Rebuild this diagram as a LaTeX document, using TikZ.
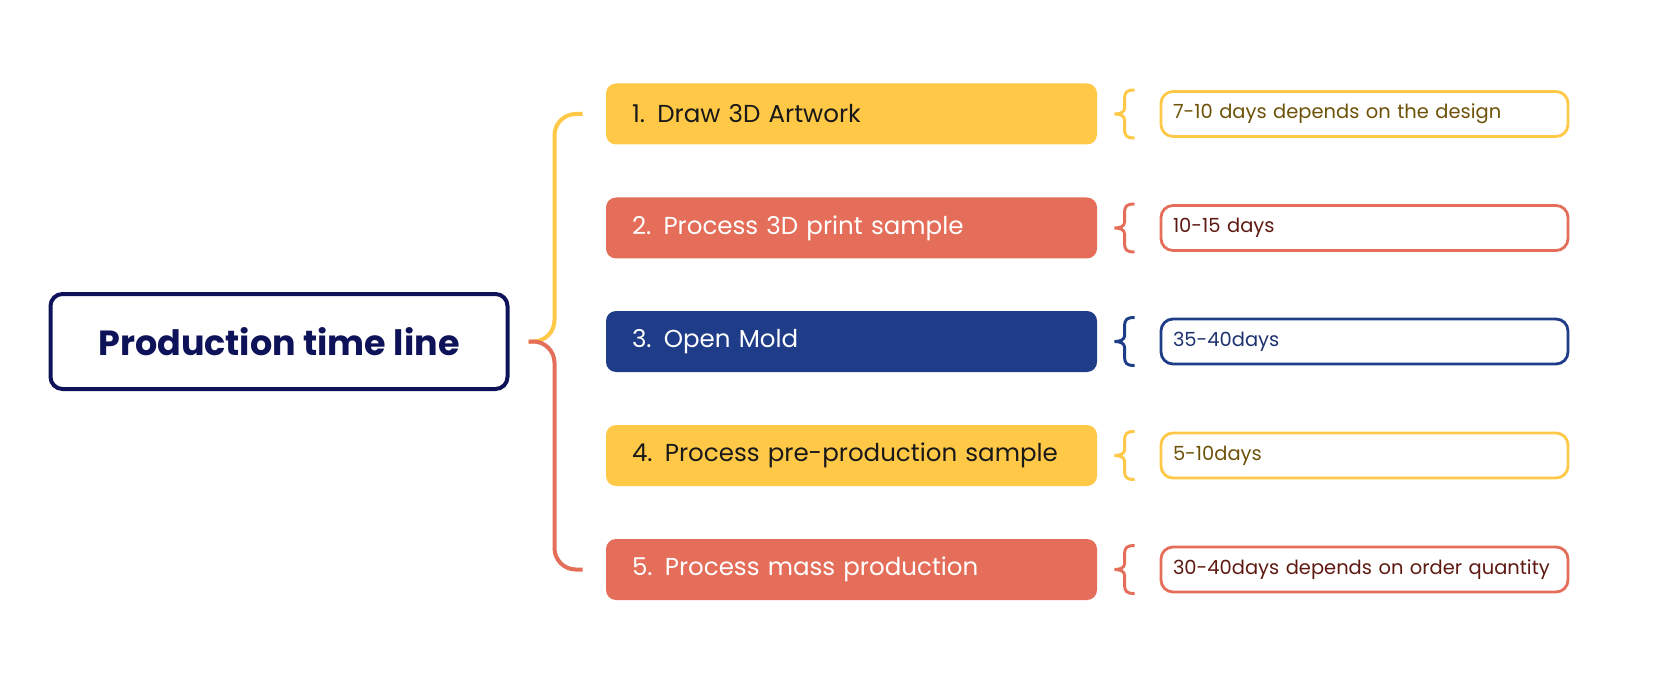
\documentclass[tikz,border=0pt]{standalone}
\usepackage{fontspec}
\setmainfont{Poppins}
\usetikzlibrary{calc}
\definecolor{cyel}{HTML}{FFC847}
\definecolor{cora}{HTML}{E46E59}
\definecolor{cblu}{HTML}{1F3C88}
\definecolor{cnav}{HTML}{0E1259}
\definecolor{tyel}{HTML}{6E5209}
\definecolor{tora}{HTML}{5E1A12}
\definecolor{tblu}{HTML}{1F3270}
\tikzset{
  rootbox/.style={draw=cnav, line width=3pt, rounded corners=9pt, fill=white,
    minimum width=342.75pt, minimum height=71.25pt, inner sep=0pt,
    font=\fontsize{26.2pt}{30pt}\selectfont\bfseries, text=cnav},
  stepbox/.style={fill=#1, rounded corners=7.5pt, minimum width=368.25pt,
    minimum height=45.75pt, text width=329.25pt, align=left, inner xsep=19.5pt, inner ysep=0pt,
    font=\fontsize{18.4pt}{21pt}\selectfont},
  labbox/.style={draw=#1, line width=2.1pt, rounded corners=9pt, fill=white,
    minimum width=305.25pt, minimum height=33.75pt, text width=287.25pt, align=left,
    inner xsep=9pt, inner ysep=0pt, font=\fontsize{14.6pt}{17pt}\selectfont},
  bigbrace/.style={draw=#1, line width=3pt, rounded corners=16pt},
  smallbrace/.style={draw=#1, line width=2.2pt},
}
\begin{document}
\begin{tikzpicture}[x=0.75pt,y=-0.75pt]
\useasboundingbox (0,0) rectangle (1677,684);
\node[rootbox] (root) at (279,341.5) {Production time line};
\node[stepbox=cyel, text=black!90] (s1) at (851.5,114) {1. Draw 3D Artwork};
\node[stepbox=cora, text=white] (s2) at (851.5,228) {2. Process 3D print sample};
\node[stepbox=cblu, text=white] (s3) at (851.5,341.5) {3. Open Mold};
\node[stepbox=cyel, text=black!90] (s4) at (851.5,455.5) {4. Process pre-production sample};
\node[stepbox=cora, text=white] (s5) at (851.5,569.5) {5. Process mass production};
\node[labbox=cyel, text=tyel] (l1) at (1364.5,114) {7-10 days depends on the design};
\node[labbox=cora, text=tora] (l2) at (1364.5,228) {10-15 days};
\node[labbox=cblu, text=tblu] (l3) at (1364.5,341.5) {35-40days};
\node[labbox=cyel, text=tyel] (l4) at (1364.5,455.5) {5-10days};
\node[labbox=cora, text=tora] (l5) at (1364.5,569.5) {30-40days depends on order quantity};
\coordinate (j) at ($(root.east)+(19,0)$);
\coordinate (t1) at ($(s1.west)+(-23,0)$);
\coordinate (t5) at ($(s5.west)+(-23,0)$);
\draw[bigbrace=cyel] (j) -- ++(26,0) |- (t1);
\draw[bigbrace=cora] (j) -- ++(26,0) |- (t5);
\foreach \i/\c in {1/cyel,2/cora,3/cblu,4/cyel,5/cora}{
  \draw[smallbrace=\c, shift={(l\i.west)}]
    (-25,-24) .. controls (-33,-24) and (-35,-22) .. (-35,-15) -- (-35,-6)
    .. controls (-35,-2) and (-39,0) .. (-45,0)
    .. controls (-39,0) and (-35,2) .. (-35,6) -- (-35,15)
    .. controls (-35,22) and (-33,24) .. (-25,24);
}
\end{tikzpicture}
\end{document}
